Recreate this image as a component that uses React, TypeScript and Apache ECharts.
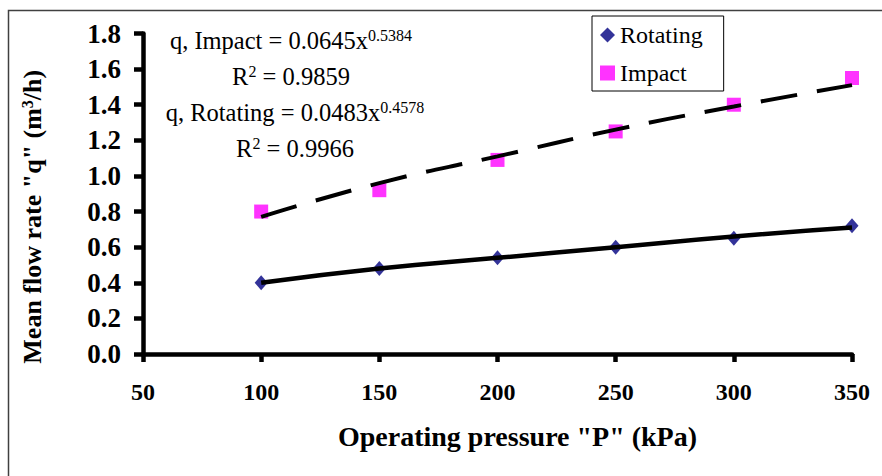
import React, { useEffect, useRef } from "react";
import * as echarts from "echarts";

const pressures = [100, 150, 200, 250, 300, 350];
const rotatingValues = [0.40, 0.48, 0.54, 0.60, 0.65, 0.72];
const impactValues = [0.80, 0.92, 1.09, 1.25, 1.40, 1.55];
const rotatingTrend = [0.40, 0.48, 0.54, 0.60, 0.66, 0.71];
const impactTrend = [0.77, 0.96, 1.11, 1.26, 1.39, 1.51];
const equationLines = [
  ["q, Impact = 0.0645x", "0.5384"],
  ["R", "2", " = 0.9859"],
  ["q, Rotating = 0.0483x", "0.4578"],
  ["R", "2", " = 0.9966"],
];

const SERIF = "'Liberation Serif', 'Times New Roman', serif";

export default function App() {
  const ref = useRef<HTMLDivElement>(null);
  useEffect(() => {
    if (!ref.current) return;
    const chart = echarts.init(ref.current, null, { renderer: "svg" });
    const pair = (ys: number[]) => pressures.map((x, i) => [x, ys[i]]);
    const eqText = (parts: string[]) =>
      parts.length === 2
        ? `{a|${parts[0]}}{s|${parts[1]}}`
        : `{a|${parts[0]}}{s|${parts[1]}}{a|${parts[2]}}`;
    const eqPos = [
      [291, 40],
      [291, 76],
      [295, 112],
      [295, 148],
    ];
    chart.setOption({
      animation: false,
      backgroundColor: "#fff",
      grid: { left: 143, top: 33.5, right: 30, bottom: 122, containLabel: false },
      legend: {
        data: [
          { name: "Rotating", icon: "diamond" },
          { name: "Impact", icon: "rect" },
        ],
        orient: "vertical",
        left: 592,
        top: 16,
        padding: [7, 21, 6, 8],
        itemGap: 14,
        itemWidth: 15,
        itemHeight: 15,
        borderColor: "#000",
        borderWidth: 1,
        backgroundColor: "#fff",
        textStyle: { fontFamily: SERIF, fontSize: 24, color: "#000", lineHeight: 24 },
      },
      xAxis: {
        type: "value",
        min: 50,
        max: 350,
        interval: 50,
        name: '{t|Operating pressure "P" (kPa)}',
        nameLocation: "middle",
        nameGap: 68,
        nameTextStyle: {
          padding: [0, 0, 0, 40],
          rich: { t: { fontFamily: SERIF, fontSize: 28, fontWeight: "bold", color: "#000" } },
        },
        axisLine: { show: true, lineStyle: { color: "#000", width: 4.5 } },
        axisTick: { show: true, inside: false, length: 8, lineStyle: { color: "#000", width: 4.5 } },
        axisLabel: { margin: 26, color: "#000", fontFamily: SERIF, fontSize: 24, fontWeight: "bold" },
        splitLine: { show: false },
      },
      yAxis: {
        type: "value",
        min: 0,
        max: 1.8,
        interval: 0.2,
        name: '{t|Mean flow rate "q" (m}{s|3}{t|/h)}',
        nameLocation: "middle",
        nameGap: 98,
        nameTextStyle: {
          padding: [0, 46, 0, 0],
          rich: {
            t: { fontFamily: SERIF, fontSize: 26, fontWeight: "bold", color: "#000" },
            s: { fontFamily: SERIF, fontSize: 16, fontWeight: "bold", color: "#000", verticalAlign: "top" },
          },
        },
        axisLine: { show: true, lineStyle: { color: "#000", width: 4.5 } },
        axisTick: { show: true, inside: false, length: 9, lineStyle: { color: "#000", width: 4.5 } },
        axisLabel: {
          margin: 22,
          color: "#000",
          fontFamily: SERIF,
          fontSize: 27,
          fontWeight: "bold",
          formatter: (v: number) => v.toFixed(1),
        },
        splitLine: { show: false },
      },
      graphic: [
        {
          type: "rect",
          shape: { x: 8.5, y: 10.5, width: 900, height: 500 },
          style: { fill: "none", stroke: "#404040", lineWidth: 1.5 },
          silent: true,
          z: -1,
        },
        ...equationLines.map((parts, i) => ({
          type: "text",
          x: eqPos[i][0],
          y: eqPos[i][1],
          style: {
            text: eqText(parts),
            align: "center",
            verticalAlign: "middle",
            rich: {
              a: { fontFamily: SERIF, fontSize: 24.5, fill: "#000", color: "#000" },
              s: { fontFamily: SERIF, fontSize: 16, fill: "#000", color: "#000", verticalAlign: "top" },
            },
          },
          z: 10,
        })),
      ],
      series: [
        {
          name: "Rotating",
          type: "scatter",
          data: pair(rotatingValues),
          symbol: "diamond",
          symbolSize: [13, 15],
          itemStyle: { color: "#000080" },
          z: 2,
        },
        {
          name: "Impact",
          type: "scatter",
          data: pair(impactValues),
          symbol: "rect",
          symbolSize: 14,
          itemStyle: { color: "#FF00FF" },
          z: 2,
        },
        {
          name: "Rotating trend",
          type: "line",
          data: pair(rotatingTrend),
          smooth: true,
          showSymbol: false,
          symbol: "none",
          lineStyle: { color: "#000", width: 4.5 },
          z: 3,
        },
        {
          name: "Impact trend",
          type: "line",
          data: pair(impactTrend),
          smooth: true,
          showSymbol: false,
          symbol: "none",
          lineStyle: { color: "#000", width: 4, type: [37, 20] },
          z: 3,
        },
      ],
    });
    return () => chart.dispose();
  }, []);
  return (
    <div
      ref={ref}
      style={{ position: "fixed", left: 0, top: 0, width: 882, height: 476 }}
    />
  );
}
